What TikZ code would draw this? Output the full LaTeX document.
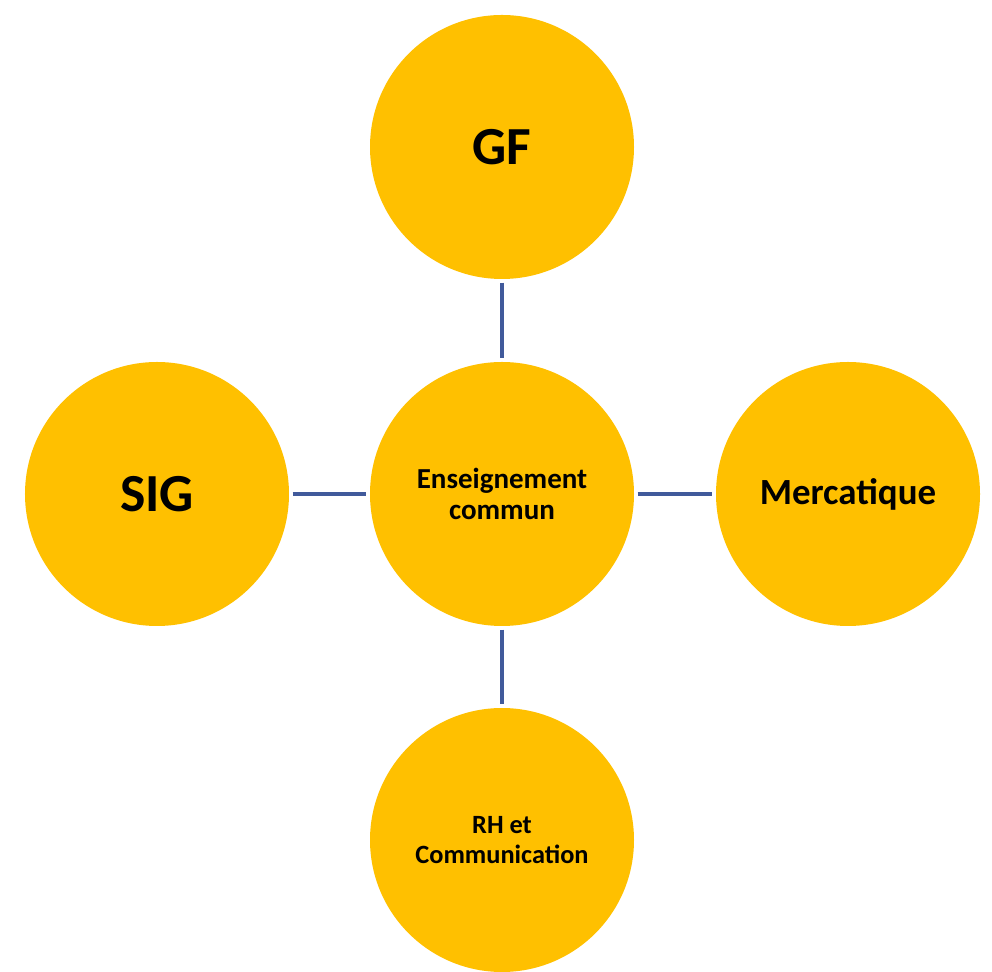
\documentclass[tikz,border=0pt]{standalone}
\usepackage{fontspec}
\setmainfont{Carlito}
\usepackage{tikz}

\definecolor{bulle}{RGB}{255,192,0}
\definecolor{trait}{RGB}{65,90,155}

\tikzset{
  bulle/.style={circle,fill=bulle,minimum size=5.28cm,inner sep=0pt,
    outer sep=2pt,align=center},
  lien/.style={draw=trait,line width=2pt}
}

\begin{document}
\begin{tikzpicture}[scale=1.0]
    \useasboundingbox (-10.04,-9.56) rectangle (9.8,9.88);
    \node[bulle,font=\bfseries\fontsize{16.5}{18}\selectfont] (commun) at (0,0)
      {Enseignement\\commun};
    \node[bulle,font=\bfseries\fontsize{30.5}{34}\selectfont] (gf) at (0,6.94) {GF};
    \node[bulle,font=\bfseries\fontsize{30.5}{34}\selectfont] (sig) at (-6.9,0) {SIG};
    \node[bulle,font=\bfseries\fontsize{21}{24}\selectfont] (merca) at (6.92,0) {Mercatique};
    \node[bulle,font=\bfseries\fontsize{15}{16.6}\selectfont] (rh) at (0,-6.92)
      {RH et\\Communication};
    \draw[lien] (gf) -- (commun);
    \draw[lien] (sig) -- (commun);
    \draw[lien] (commun) -- (merca);
    \draw[lien] (commun) -- (rh);
  \end{tikzpicture}
\end{document}
